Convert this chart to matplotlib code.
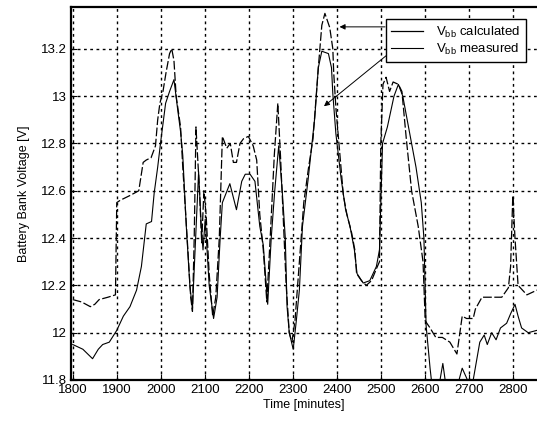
import matplotlib
matplotlib.use("Agg")
import matplotlib.pyplot as plt

# ---- data ----
t_calc = [1800, 1820, 1840, 1850, 1860, 1880, 1897, 1900, 1908, 1930, 1950, 1960, 1967, 1978,
          1988, 1993, 1998, 2005, 2012, 2020, 2025, 2030, 2035, 2045, 2050, 2060, 2068, 2072,
          2076, 2080, 2088, 2093, 2098, 2103, 2110, 2118, 2125, 2133, 2140, 2150, 2158, 2165,
          2172, 2180, 2188, 2199, 2210, 2218, 2225, 2233, 2241, 2250, 2258, 2266, 2272, 2278,
          2285, 2292, 2298, 2305, 2315, 2325, 2336, 2346, 2358, 2366, 2373, 2384, 2391, 2393,
          2398, 2404, 2415, 2423, 2434, 2441, 2445, 2456, 2467, 2479, 2490, 2497, 2500, 2505,
          2512, 2520, 2528, 2540, 2548, 2558, 2570, 2585, 2596, 2601, 2612, 2625, 2640, 2657,
          2673, 2685, 2695, 2710, 2715, 2730, 2752, 2775, 2790, 2795, 2800, 2805, 2812, 2832,
          2855]
v_calc = [12.14, 12.13, 12.11, 12.12, 12.14, 12.15, 12.16, 12.55, 12.56, 12.58, 12.60, 12.72,
          12.73, 12.74, 12.79, 12.90, 12.97, 13.02, 13.10, 13.18, 13.20, 13.15, 13.00, 12.87,
          12.70, 12.40, 12.15, 12.09, 12.40, 12.87, 12.60, 12.38, 12.60, 12.50, 12.25, 12.07,
          12.15, 12.40, 12.83, 12.78, 12.80, 12.72, 12.72, 12.80, 12.82, 12.83, 12.79, 12.73,
          12.50, 12.35, 12.13, 12.45, 12.75, 12.97, 12.75, 12.50, 12.20, 12.00, 11.96, 12.05,
          12.30, 12.55, 12.70, 12.82, 13.12, 13.30, 13.35, 13.29, 13.20, 13.10, 12.95, 12.82,
          12.58, 12.50, 12.42, 12.35, 12.25, 12.22, 12.20, 12.22, 12.27, 12.30, 12.80, 13.05,
          13.08, 13.02, 13.06, 13.05, 13.02, 12.82, 12.60, 12.45, 12.30, 12.05, 12.02, 11.98,
          11.98, 11.96, 11.91, 12.07, 12.06, 12.06, 12.10, 12.15, 12.15, 12.15, 12.19, 12.28,
          12.58, 12.40, 12.20, 12.16, 12.18]

t_meas = [1800, 1823, 1845, 1858, 1868, 1883, 1900, 1915, 1930, 1945, 1956, 1967, 1979, 1985,
          1993, 2000, 2011, 2020, 2030, 2038, 2045, 2050, 2058, 2066, 2072, 2078, 2086, 2092,
          2096, 2101, 2110, 2120, 2128, 2135, 2140, 2157, 2172, 2184, 2192, 2203, 2214, 2225,
          2233, 2243, 2251, 2259, 2268, 2276, 2283, 2287, 2292, 2301, 2308, 2315, 2322, 2335,
          2350, 2358, 2366, 2381, 2388, 2391, 2398, 2410, 2420, 2430, 2440, 2446, 2460, 2475,
          2490, 2497, 2504, 2515, 2530, 2540, 2550, 2565, 2580, 2592, 2598, 2603, 2612, 2618,
          2630, 2641, 2650, 2672, 2685, 2697, 2710, 2725, 2735, 2742, 2752, 2762, 2772, 2786,
          2795, 2805, 2812, 2820, 2835, 2855]
v_meas = [11.95, 11.93, 11.89, 11.93, 11.95, 11.96, 12.01, 12.07, 12.11, 12.18, 12.28, 12.46,
          12.47, 12.59, 12.70, 12.81, 12.97, 13.02, 13.07, 12.95, 12.85, 12.75, 12.45, 12.20,
          12.10, 12.35, 12.68, 12.45, 12.35, 12.48, 12.20, 12.06, 12.15, 12.40, 12.55, 12.63,
          12.52, 12.64, 12.67, 12.67, 12.64, 12.45, 12.37, 12.12, 12.40, 12.60, 12.79, 12.60,
          12.40, 12.11, 12.00, 11.93, 12.05, 12.18, 12.45, 12.65, 12.91, 13.12, 13.19, 13.18,
          13.12, 13.01, 12.84, 12.65, 12.52, 12.45, 12.35, 12.25, 12.21, 12.22, 12.28, 12.35,
          12.80, 12.87, 13.00, 13.05, 13.00, 12.85, 12.70, 12.55, 12.40, 12.03, 11.85, 11.75,
          11.75, 11.87, 11.75, 11.76, 11.85, 11.80, 11.80, 11.96, 11.99, 11.95, 12.00, 11.97,
          12.02, 12.04, 12.08, 12.12, 12.07, 12.02, 12.00, 12.01]

x_ticks = [1800, 1900, 2000, 2100, 2200, 2300, 2400, 2500, 2600, 2700, 2800]
y_ticks = [11.8, 12.0, 12.2, 12.4, 12.6, 12.8, 13.0, 13.2]
y_tick_labels = ["11.8", "12", "12.2", "12.4", "12.6", "12.8", "13", "13.2"]
labels = [r"V$_{\mathregular{bb}}$ calculated", r"V$_{\mathregular{bb}}$ measured"]

plt.rcParams['font.family'] = ['Liberation Sans', 'DejaVu Sans']
fig = plt.figure(figsize=(5.37, 4.22), dpi=100)
ax = fig.add_axes([71/537, 42/422, 466/537, 373/422])

ax.plot(t_calc, v_calc, color='black', lw=0.9, linestyle=(0, (7, 2)), label=labels[0])
ax.plot(t_meas, v_meas, color='black', lw=0.8, linestyle='-', label=labels[1])

ax.set_xlim(1796, 2855)
ax.set_ylim(11.8, 13.377)
ax.set_xticks(x_ticks)
ax.set_yticks(y_ticks)
ax.set_yticklabels(y_tick_labels)
ax.tick_params(direction='in', length=4, labelsize=9.5, colors='black', pad=3)
ax.grid(True, color='black', linestyle=(0, (2, 2.5)), linewidth=1.0)
for s in ['left', 'bottom', 'top']:
    ax.spines[s].set_linewidth(1.6)
ax.spines['right'].set_visible(False)

ax.set_xlabel("Time [minutes]", fontsize=9, labelpad=2)
ax.set_ylabel("Battery Bank Voltage [V]", fontsize=9, labelpad=8)

leg = ax.legend(loc='upper right', bbox_to_anchor=(0.99, 0.985), fontsize=9.5,
                frameon=True, fancybox=False, edgecolor='black', framealpha=1,
                handlelength=2.4, borderpad=0.4, labelspacing=0.15, handletextpad=1.0)
leg.get_frame().set_linewidth(1.0)
for h in leg.get_lines():
    h.set_linestyle('-')

ax.annotate("", xy=(2400, 13.293), xytext=(2516, 13.293),
            arrowprops=dict(arrowstyle='-|>', color='black', lw=0.7, mutation_scale=8))
ax.annotate("", xy=(2366, 12.95), xytext=(2528, 13.195),
            arrowprops=dict(arrowstyle='-|>', color='black', lw=0.7, mutation_scale=8))

fig.savefig("out.png", dpi=100, facecolor='white')
